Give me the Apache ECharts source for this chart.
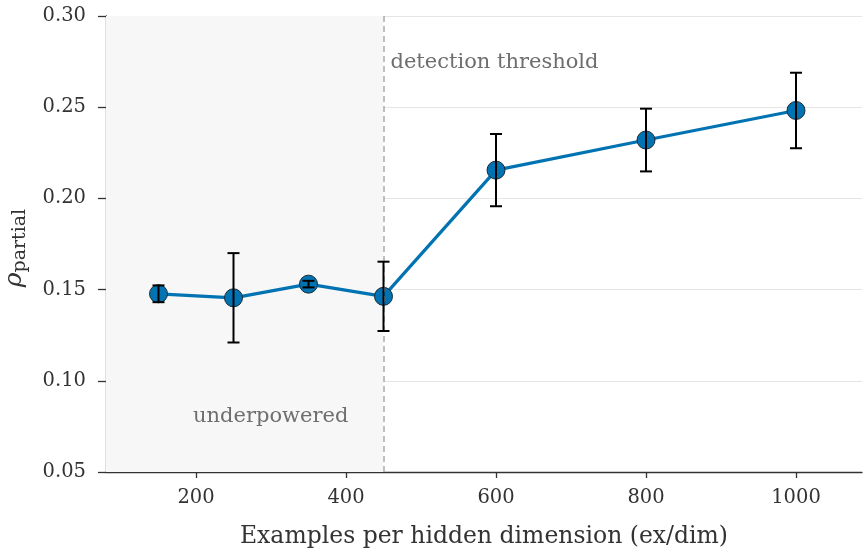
<!DOCTYPE html>
<html>
<head>
<meta charset="utf-8">
<script src="https://cdn.jsdelivr.net/npm/echarts@6/dist/echarts.min.js"></script>
<style>
  html, body { margin: 0; padding: 0; background: #ffffff; }
  #chart { width: 864px; height: 550px; }
</style>
</head>
<body>
<div id="chart"></div>
<script>
// Partial correlation vs. examples per hidden dimension
const exPerDim = [150, 250, 350, 450, 600, 800, 1000];
const rhoPartial = [0.1477, 0.1455, 0.1530, 0.1463, 0.2155, 0.2320, 0.2482];
const rhoErr = [0.0046, 0.0245, 0.0018, 0.0190, 0.0198, 0.0172, 0.0207];
const xTicks = [200, 400, 600, 800, 1000];
const thresholdX = 450;
const xRange = [80, 1088];

const SERIF = '"DejaVu Serif", "Liberation Serif", serif';
const BLUE = '#0173b2';
const INK = '#333333';

const errData = exPerDim.map((x, i) => [x, rhoPartial[i] - rhoErr[i], rhoPartial[i] + rhoErr[i]]);

const chart = echarts.init(document.getElementById('chart'), null, { renderer: 'canvas' });

chart.setOption({
  animation: false,
  backgroundColor: '#ffffff',
  grid: { left: 106, right: 2, top: 16, bottom: 78, containLabel: false, outerBoundsMode: 'none' },
  xAxis: {
    type: 'value',
    min: xRange[0],
    max: xRange[1],
    name: 'Examples per hidden dimension (ex/dim)',
    nameLocation: 'middle',
    nameGap: 53,
    nameTextStyle: { fontFamily: SERIF, fontSize: 23.5, color: INK },
    axisLine: { show: true, lineStyle: { color: INK, width: 1.3 } },
    axisTick: { show: true, length: 6, lineStyle: { color: INK, width: 1.3 }, customValues: xTicks },
    axisLabel: { fontFamily: SERIF, fontSize: 19.5, color: INK, margin: 16,
      customValues: xTicks, formatter: v => String(v) },
    splitLine: { show: false }
  },
  yAxis: {
    type: 'value',
    min: 0.05,
    max: 0.30,
    interval: 0.05,
    name: '{a|ρ}{b|partial}',
    nameLocation: 'middle',
    nameRotate: 90,
    nameGap: 76,
    nameTextStyle: {
      padding: [0, 8, 0, 0],
      rich: {
        a: { fontFamily: SERIF, fontStyle: 'italic', fontSize: 25, color: INK },
        b: { fontFamily: SERIF, fontSize: 19, color: INK, padding: [12, 0, 0, 0] }
      }
    },
    axisLine: { show: true, lineStyle: { color: INK, width: 1.3 } },
    axisTick: { show: true, length: 8, lineStyle: { color: INK, width: 1.3 } },
    axisLabel: { fontFamily: SERIF, fontSize: 19.5, color: INK, margin: 20,
      formatter: v => v.toFixed(2) },
    splitLine: { show: true, lineStyle: { color: '#e5e5e5', width: 1 } }
  },
  series: [
    {
      type: 'line',
      name: 'rho',
      data: exPerDim.map((x, i) => [x, rhoPartial[i]]),
      symbol: 'circle',
      symbolSize: 18,
      lineStyle: { color: BLUE, width: 3.2 },
      itemStyle: { color: BLUE, borderColor: '#1f2a33', borderWidth: 1 },
      z: 3,
      markArea: {
        silent: true,
        data: [
          [{ xAxis: xRange[0], itemStyle: { color: '#f7f7f7' },
             label: { show: true, position: 'insideBottom', offset: [26, -40],
               formatter: 'underpowered', fontFamily: SERIF, fontSize: 21, color: '#6e6e6e' } },
           { xAxis: thresholdX }],
          [{ xAxis: thresholdX, itemStyle: { color: 'rgba(0,0,0,0)' },
             label: { show: true, position: 'insideTopLeft', offset: [2, 31],
               formatter: 'detection threshold', fontFamily: SERIF, fontSize: 21, color: '#6e6e6e' } },
           { xAxis: xRange[1] }]
        ]
      },
      markLine: {
        silent: true,
        symbol: ['none', 'none'],
        lineStyle: { color: '#aaaaaa', type: [6, 4], width: 1.5 },
        label: { show: false },
        data: [{ xAxis: thresholdX }]
      }
    },
    {
      type: 'custom',
      name: 'err',
      data: errData,
      z: 5,
      renderItem: function (params, api) {
        const x = api.value(0);
        const lo = api.coord([x, api.value(1)]);
        const hi = api.coord([x, api.value(2)]);
        const cap = 6;
        const style = { stroke: '#000000', lineWidth: 2 };
        return {
          type: 'group',
          children: [
            { type: 'line', shape: { x1: lo[0], y1: lo[1], x2: hi[0], y2: hi[1] }, style },
            { type: 'line', shape: { x1: lo[0] - cap, y1: lo[1], x2: lo[0] + cap, y2: lo[1] }, style },
            { type: 'line', shape: { x1: hi[0] - cap, y1: hi[1], x2: hi[0] + cap, y2: hi[1] }, style }
          ]
        };
      },
      encode: { x: 0, y: [1, 2] }
    }
  ]
});
</script>
</body>
</html>
